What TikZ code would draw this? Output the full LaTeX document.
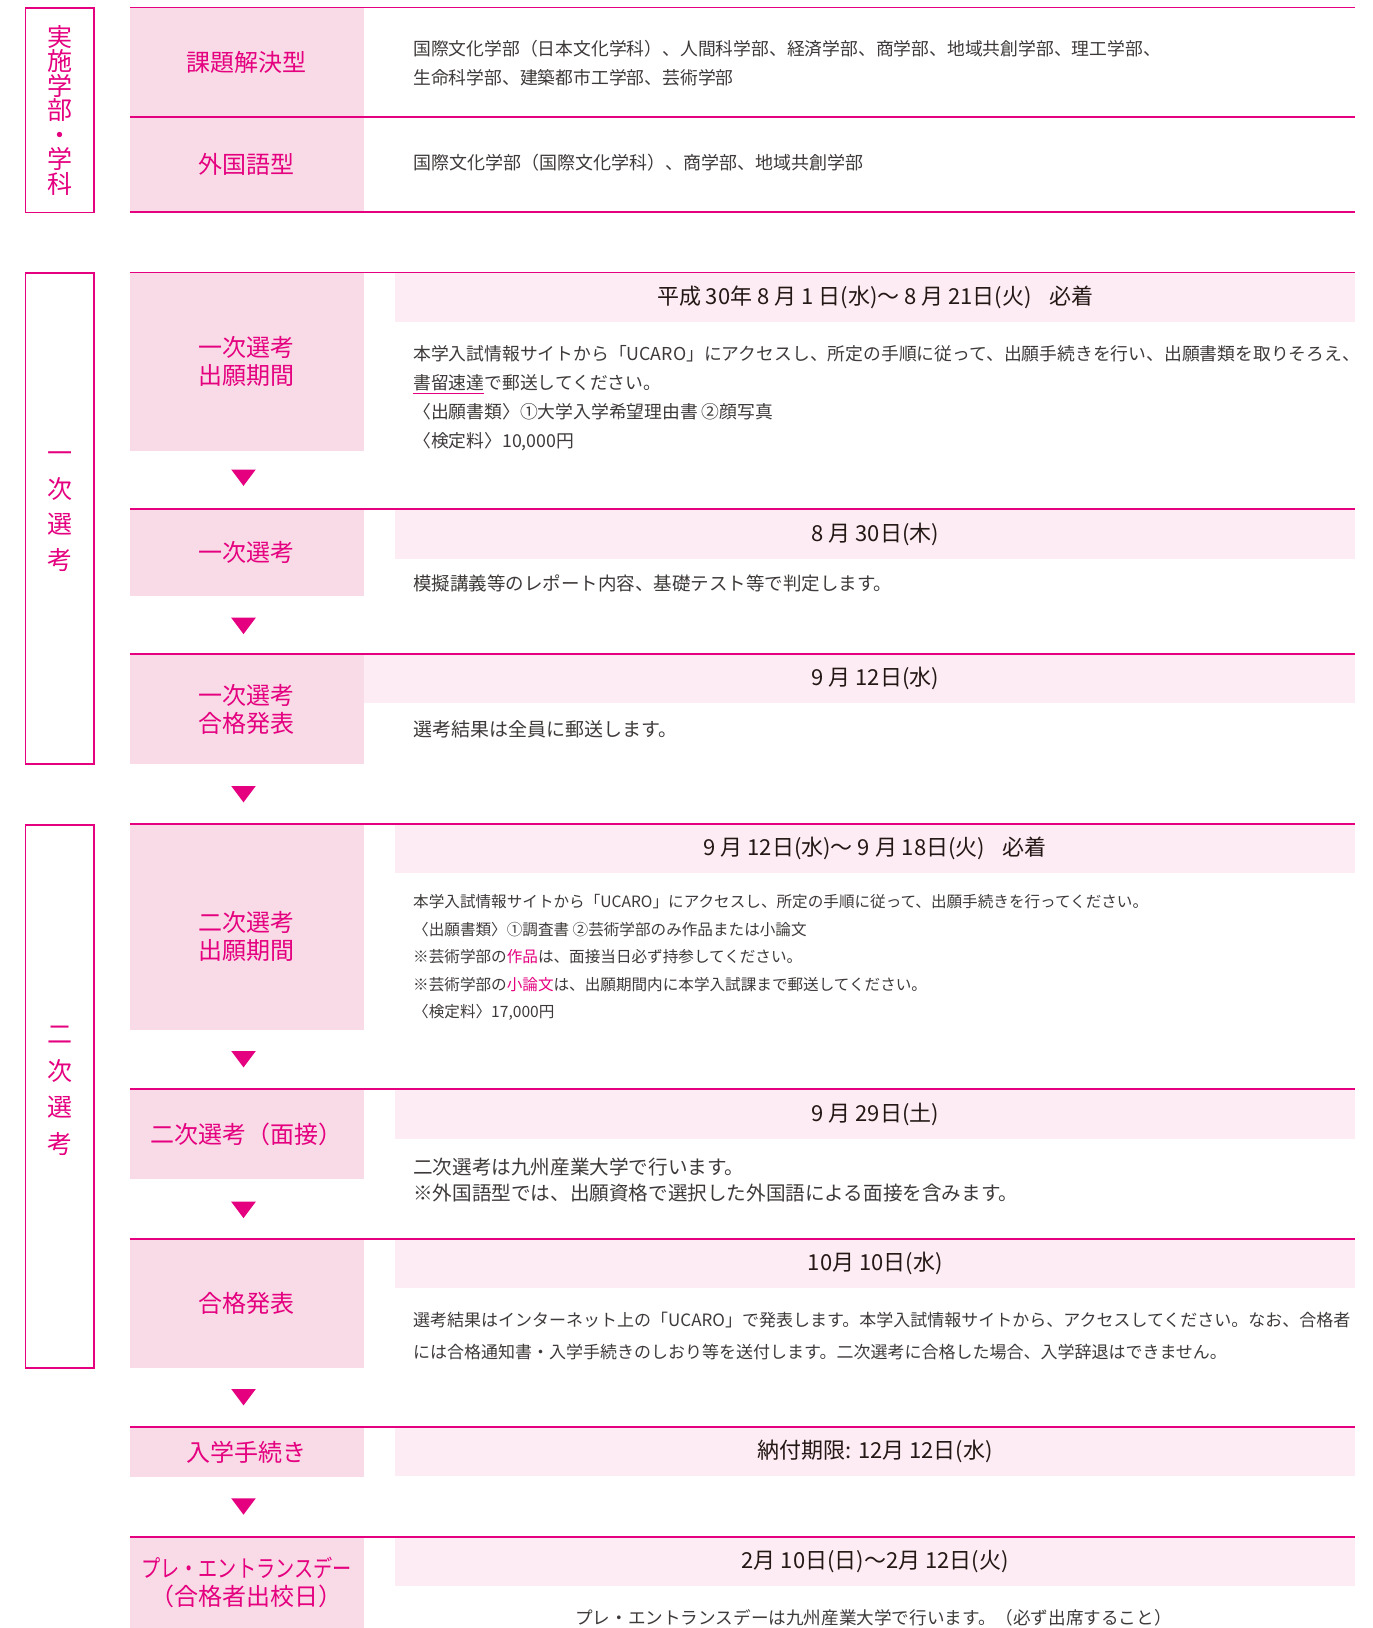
\documentclass[tikz,border=0pt]{standalone}
\usepackage{fontspec}
\setmainfont{Noto Sans CJK JP}
\usepackage{tikz}

\definecolor{kupink}{HTML}{E4007F}
\definecolor{labelbg}{HTML}{F9DBE7}
\definecolor{bandbg}{HTML}{FDECF3}
\definecolor{bodygray}{HTML}{3E3A39}
\definecolor{datetext}{HTML}{231815}

\newsavebox{\ulbox}
\newcommand{\pinkul}[1]{\sbox{\ulbox}{#1}\rlap{\color{kupink}\rule[-4.6pt]{\wd\ulbox}{1.5pt}}\usebox{\ulbox}}
\newcommand{\tightlines}{\lineskiplimit=-8pt\relax}

\tikzset{
  rule/.style={draw=kupink, line width=1.8pt},
  labelbox/.style={fill=labelbg, inner sep=0, anchor=north west, minimum width=233.8pt,
    text=kupink, align=center, font=\fontsize{24}{28}\selectfont},
  labeltext/.style={text=kupink, align=center, inner sep=0, font=\fontsize{24}{28}\selectfont},
  bandbox/.style={fill=bandbg, inner sep=0, anchor=north west, minimum width=960pt,
    text=datetext, font=\fontsize{22}{26}\selectfont},
  datetext/.style={text=datetext, inner sep=0, font=\fontsize{22}{26}\selectfont},
  sidebox/.style={draw=kupink, line width=1.6pt, inner sep=0, anchor=north west, minimum width=68.5pt},
  sidetext/.style={text=kupink, align=center, inner sep=0,
    font=\fontsize{25}{35.5}\selectfont\tightlines},
  bodytext/.style={text=bodygray, align=left, inner sep=0, anchor=base west}
}

\begin{document}
\begin{tikzpicture}[x=1pt,y=-1pt]
\useasboundingbox (0,0) rectangle (1373,1628);

% 実施学部・学科
\node[sidebox, minimum height=204.7pt] (side-1) at (24.5,7) {};
\node[sidetext, font=\fontsize{25}{24.5}\selectfont\tightlines] (side-1-t) at (side-1) {実\\施\\学\\部\\・\\学\\科};
\node[labelbox, minimum height=109.2pt] (lab-1) at (129.5,7.5) {課題解決型};
\node[labelbox, minimum height=95pt] (lab-2) at (129.5,116.7) {外国語型};
\node[bodytext, font=\fontsize{17.8}{28.5}\selectfont] (txt-1) at (413,84)
  {国際文化学部（日本文化学科）、人間科学部、経済学部、商学部、地域共創学部、理工学部、\\生命科学部、建築都市工学部、芸術学部};
\node[bodytext, font=\fontsize{18}{27}\selectfont] (txt-2) at (413,169)
  {国際文化学部（国際文化学科）、商学部、地域共創学部};

% 一次選考
\node[sidebox, minimum height=491pt] (side-2) at (24.5,272.3) {};
\node[sidetext] (side-2-t) at ([yshift=7pt]side-2.center) {一\\次\\選\\考};

\node[labelbox, minimum height=178.2pt] (lab-a) at (129.5,272.5) {一次選考\\出願期間};
\node[bandbox, minimum height=49.2pt] (date-a) at (395,272.5) {平成 30年 8 月 1 日(水)〜 8 月 21日(火)\hspace{0.8em}必着};
\node[bodytext, font=\fontsize{17.8}{29}\selectfont] (txt-a) at (413,447.5)
  {本学入試情報サイトから「UCARO」にアクセスし、所定の手順に従って、出願手続きを行い、出願書類を取りそろえ、\\
   \pinkul{書留速達}で郵送してください。\\
   〈出願書類〉①大学入学希望理由書 ②顔写真\\
   〈検定料〉10,000円};

\node[labelbox, minimum height=86.4pt] (lab-b) at (129.5,509.3) {一次選考};
\node[bandbox, minimum height=49.4pt] (date-b) at (395,509.3) {8 月 30日(木)};
\node[bodytext, anchor=west, font=\fontsize{18.5}{24}\selectfont] (txt-b) at (413,583.5)
  {模擬講義等のレポート内容、基礎テスト等で判定します。};

\node[labelbox, minimum height=109pt] (lab-c) at (129.5,654.3) {一次選考\\合格発表};
\node[bandbox, minimum width=991.7pt, minimum height=48.4pt] (date-c) at (363.3,654.3) {};
\node[datetext] (date-c-t) at (date-c.center -| date-b.center) {9 月 12日(水)};
\node[bodytext, anchor=west, font=\fontsize{19}{24}\selectfont] (txt-c) at (413,729.5)
  {選考結果は全員に郵送します。};

% 二次選考
\node[sidebox, minimum height=543pt] (side-3) at (24.5,824.3) {};
\node[sidetext, font=\fontsize{25}{36.5}\selectfont\tightlines] (side-3-t) at ([yshift=6pt]side-3.center) {二\\次\\選\\考};

\node[labelbox, minimum height=205.3pt] (lab-d) at (129.5,824) {};
\node[labeltext] (lab-d-t) at ([yshift=-10pt]lab-d.center) {二次選考\\出願期間};
\node[bandbox, minimum height=48.7pt] (date-d) at (395,824) {9 月 12日(水)〜 9 月 18日(火)\hspace{0.8em}必着};
\node[bodytext, font=\fontsize{15.6}{27.5}\selectfont] (txt-d) at (413,1017.5)
  {本学入試情報サイトから「UCARO」にアクセスし、所定の手順に従って、出願手続きを行ってください。\\
   〈出願書類〉①調査書 ②芸術学部のみ作品または小論文\\
   ※芸術学部の\textcolor{kupink}{作品}は、面接当日必ず持参してください。\\
   ※芸術学部の\textcolor{kupink}{小論文}は、出願期間内に本学入試課まで郵送してください。\\
   〈検定料〉17,000円};

\node[labelbox, minimum height=89pt] (lab-e) at (129.5,1089.3) {二次選考（面接）};
\node[bandbox, minimum height=49pt] (date-e) at (395,1089.3) {9 月 29日(土)};
\node[bodytext, font=\fontsize{19.6}{26}\selectfont] (txt-e) at (413,1200.7)
  {二次選考は九州産業大学で行います。\\※外国語型では、出願資格で選択した外国語による面接を含みます。};

\node[labelbox, minimum height=128.4pt] (lab-f) at (129.5,1239.3) {合格発表};
\node[bandbox, minimum height=48pt] (date-f) at (395,1239.3) {10月 10日(水)};
\node[bodytext, font=\fontsize{17}{31.7}\selectfont] (txt-f) at (413,1358)
  {選考結果はインターネット上の「UCARO」で発表します。本学入試情報サイトから、アクセスしてください。なお、合格者\\
   には合格通知書・入学手続きのしおり等を送付します。二次選考に合格した場合、入学辞退はできません。};

% 入学手続き以降
\node[labelbox, minimum height=49.7pt] (lab-g) at (129.5,1427) {入学手続き};
\node[bandbox, minimum height=48.7pt] (date-g) at (395,1427) {納付期限: 12月 12日(水)};

\node[labelbox, minimum height=91.3pt] (lab-h) at (129.5,1536.7) {\scalebox{0.8}[1]{プレ・エントランスデー}\\（合格者出校日）};
\node[bandbox, minimum height=49pt] (date-h) at (395,1536.7) {2月 10日(日)〜2月 12日(火)};
\node[bodytext, anchor=center, align=center, font=\fontsize{17.6}{24}\selectfont] (txt-h) at (873.5,1618)
  {プレ・エントランスデーは九州産業大学で行います。（必ず出席すること）};

% rules and marks
\foreach \ry in {7.5,116.7,211.7,272.5,509.3,654.3,824,1089.3,1239.3,1427,1536.7}
  \draw[rule] (129.5,\ry) -- (1355,\ry);
\foreach \ay in {469.5,617.7,786,1051,1201.7,1389,1498.3}
  \fill[kupink] (231.2,\ay) -- ++(24.6,0) -- ++(-12.3,16.4) -- cycle;
\end{tikzpicture}
\end{document}
